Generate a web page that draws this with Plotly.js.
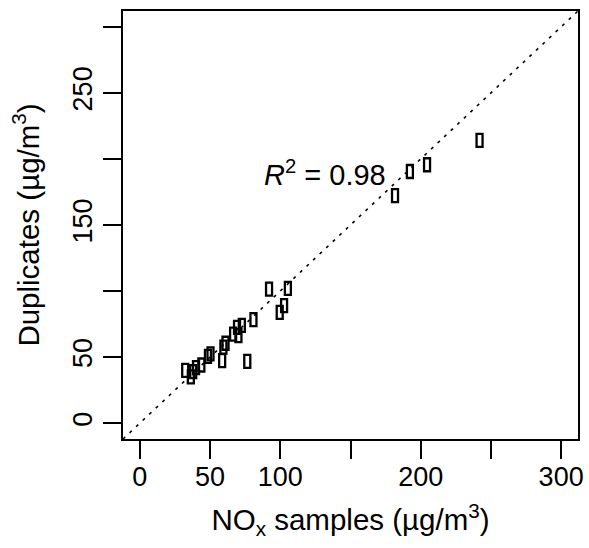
<!DOCTYPE html>
<html>
<head>
<meta charset="utf-8">
<script src="https://cdn.plot.ly/plotly-3.0.1.min.js"></script>
<style>html,body{margin:0;padding:0;background:#fff;}#chart{width:589px;height:548px;}</style>
</head>
<body>
<div id="chart"></div>
<script>
// NOx samples (x) vs duplicates (y), µg/m3
const samplesX = [32.3, 36.3, 38.0, 40.0, 43.8, 48.5, 50.3, 58.6, 59.5, 61.0, 66.4, 70.2, 69.2, 72.6, 80.9, 76.5, 92.0, 99.6, 102.7, 105.4, 181.7, 192.3, 204.5, 241.9];
const duplicatesY = [40.0, 35.0, 39.0, 42.0, 44.0, 50.5, 52.5, 47.3, 57.5, 60.5, 67.4, 66.2, 72.5, 74.0, 78.3, 46.8, 101.4, 83.9, 88.9, 102.1, 172.3, 190.5, 195.6, 214.0];

// all tick marks, and the subset that carries a label
const allTicks = [0, 50, 100, 150, 200, 250, 300];
const xLabelVals = [0, 50, 100, 200, 300];
const xLabelText = ['0', '50', '100', '200', '300'];
const yLabelVals = [0, 50, 150, 250];
const yLabelText = ['0', '50', '150', '250'];

const axisRange = [-12, 312];
const identityLine = [-12, 312];
const r2Label = '<i>R</i><sup>2</sup> = 0.98';
const r2Pos = [132, 189];

const FONT = 'Liberation Sans, Arial, Helvetica, sans-serif';

// open tall rectangles as point markers, anchored at each data point (pixel-sized)
const markerShapes = samplesX.map((xv, i) => ({
  type: 'rect', xref: 'x', yref: 'y',
  xsizemode: 'pixel', ysizemode: 'pixel',
  xanchor: xv, yanchor: duplicatesY[i],
  x0: -3, x1: 3, y0: -6.5, y1: 6.5,
  line: {color: 'black', width: 2.3},
  fillcolor: 'rgba(0,0,0,0)'
}));

const traces = [
  {
    x: identityLine, y: identityLine,
    type: 'scatter', mode: 'lines',
    line: {color: 'black', width: 1.6, dash: '3px,6px'},
    hoverinfo: 'skip', showlegend: false
  },
  {
    x: samplesX, y: duplicatesY,
    type: 'scatter', mode: 'markers',
    marker: {size: 8, color: 'rgba(0,0,0,0)'},
    showlegend: false
  }
];

const axisCommon = {
  range: axisRange,
  showgrid: false, zeroline: false,
  showline: true, linecolor: 'black', linewidth: 2, mirror: true,
  ticks: 'outside', ticklen: 18, tickwidth: 2, tickcolor: 'black',
  tickfont: {family: FONT, size: 27, color: 'black'},
  tickmode: 'array',
  minor: {tickmode: 'array', tickvals: allTicks, ticks: 'outside', ticklen: 18, tickwidth: 2, tickcolor: 'black', showgrid: false}
};

const layout = {
  width: 589, height: 548,
  margin: {l: 123, r: 11, t: 11, b: 109},
  paper_bgcolor: 'white', plot_bgcolor: 'white',
  font: {family: FONT, color: 'black'},
  xaxis: Object.assign({}, axisCommon, {
    tickvals: xLabelVals, ticktext: xLabelText, ticklabelstandoff: -5,
    title: {text: 'NO<sub>x</sub> samples (µg/m<sup>3</sup>)', font: {family: FONT, size: 29.5, color: 'black'}, standoff: 18}
  }),
  yaxis: Object.assign({}, axisCommon, {
    tickvals: yLabelVals, ticktext: yLabelText, tickangle: -90,
    title: {text: 'Duplicates (µg/m<sup>3</sup>)', font: {family: FONT, size: 29.5, color: 'black'}, standoff: 20}
  }),
  shapes: markerShapes,
  annotations: [{
    x: r2Pos[0], y: r2Pos[1], xref: 'x', yref: 'y',
    text: r2Label, showarrow: false,
    font: {family: FONT, size: 29, color: 'black'},
    xanchor: 'center', yanchor: 'middle'
  }]
};

Plotly.newPlot('chart', traces, layout, {displayModeBar: false, staticPlot: true});
</script>
</body>
</html>
